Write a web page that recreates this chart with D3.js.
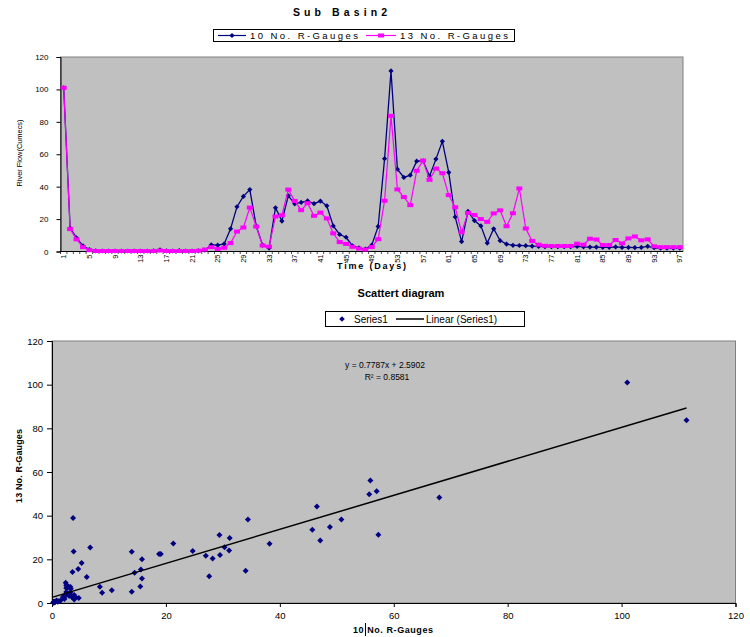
<!DOCTYPE html>
<html><head><meta charset="utf-8">
<script src="https://cdn.jsdelivr.net/npm/d3@7/dist/d3.min.js"></script>
<style>
body{margin:0;background:#fff}
svg{display:block}
text{font-family:"Liberation Sans",Arial,sans-serif;fill:#000}
</style>
</head><body>
<svg id="c" width="750" height="637"></svg>
<script>
// ---------- DATA ----------
const days = [1,2,3,4,5,6,7,8,9,10,11,12,13,14,15,16,17,18,19,20,21,22,23,24,25,26,27,28,29,30,
  31,32,33,34,35,36,37,38,39,40,41,42,43,44,45,46,47,48,49,50,51,52,53,54,55,56,57,58,59,60,
  61,62,63,64,65,66,67,68,69,70,71,72,73,74,75,76,77,78,79,80,81,82,83,84,85,86,87,88,89,90,
  91,92,93,94,95,96,97];
const gauges10 = [101,14.5,8.4,3.5,1.2,0.4,0.3,0.3,0.3,0.3,0.3,0.3,0.3,0.3,0.4,1.0,0.4,0.3,0.5,0.3,
  0.3,0.4,0.8,4.1,3.9,4.7,14.0,27.6,34.0,38.2,15.6,3.9,2.1,27.0,18.8,34.4,29.4,30.3,31.2,29.5,
  31.1,28.2,15.8,10.5,8.8,3.5,2.2,1.5,3.9,15.5,57.3,111.4,50.8,45.7,47.1,55.7,55.9,46.5,57.0,68.0,
  48.8,21.3,6.1,24.7,19.1,15.8,5.2,14.0,6.7,4.6,3.8,3.7,3.6,3.3,3.1,3.0,3.0,3.0,3.0,3.0,
  3.2,2.9,2.7,2.7,2.6,2.6,2.8,2.5,2.5,2.4,2.5,3.2,2.3,2.0,2.0,2.0,2.0];
const gauges13 = [101,13.8,7.5,2.7,0.8,0.3,0.3,0.3,0.3,0.3,0.3,0.3,0.3,0.3,0.3,0.6,0.3,0.3,0.3,0.3,
  0.3,0.5,1.2,2.7,1.6,2.3,5.2,12.3,14.8,27.1,15.4,3.7,3.0,21.6,22.4,38.2,31.2,25.5,29.8,22.0,
  24.0,20.4,11.2,5.8,4.7,2.9,1.8,1.2,2.8,7.6,31.3,83.7,38.3,33.6,28.6,49.8,56.1,44.2,51.2,48.3,
  34.8,27.3,11.9,23.8,22.5,20.0,18.3,23.5,25.4,15.6,23.6,38.9,14.2,6.5,4.2,3.5,3.4,3.4,3.4,3.4,
  4.8,4.2,7.9,7.4,4.0,4.0,7.1,5.0,8.1,9.3,6.9,7.5,3.2,2.7,2.7,2.7,2.7];
const dayTickLabels = [1,5,9,13,17,21,25,29,33,37,41,45,49,53,57,61,65,69,73,77,81,85,89,93,97];
const flowTicks = [0,20,40,60,80,100,120];
const scatterTicks = [0,20,40,60,80,100,120];
const trendSlope = 0.7787;
const trendIntercept = 2.5902;
const trendR2 = 0.8581;
const seriesNames = ["10 No. R-Gauges","13 No. R-Gauges"];

const NAVY = "#000080", MAG = "#FF00FF", PLOT = "#C0C0C0", BORDER = "#808080";
const svg = d3.select("#c");
const diamond = s => `M0,${-s}L${s},0L0,${s}L${-s},0Z`;

// ---------- CHART 1 : time series ----------
const p1 = {l:60.5, r:683, t:57, b:251.5};
const x1 = d3.scalePoint().domain(days).range([p1.l, p1.r]).padding(0.5);
const xb1 = d3.scaleBand().domain(days).range([p1.l, p1.r]);
const y1 = d3.scaleLinear().domain([0,120]).range([p1.b, p1.t]);

svg.append("text").attr("x",293).attr("y",16).attr("font-size",10.5).attr("font-weight","bold")
  .attr("textLength",94).attr("lengthAdjust","spacing").text("Sub Basin2");

// legend 1
const lg1 = svg.append("g");
lg1.append("rect").attr("x",213.5).attr("y",29.5).attr("width",301).attr("height",12)
  .attr("fill","#fff").attr("stroke","#000").attr("stroke-width",1);
lg1.append("line").attr("x1",218).attr("x2",246).attr("y1",35.5).attr("y2",35.5).attr("stroke",NAVY).attr("stroke-width",1.2);
lg1.append("path").attr("d",diamond(2.6)).attr("transform","translate(232,35.5)").attr("fill",NAVY);
lg1.append("text").attr("x",250).attr("y",39).attr("font-size",9.5).attr("textLength",108).attr("lengthAdjust","spacing").text(seriesNames[0]);
lg1.append("line").attr("x1",366).attr("x2",396).attr("y1",35.5).attr("y2",35.5).attr("stroke",MAG).attr("stroke-width",1.2);
lg1.append("rect").attr("x",378).attr("y",33.5).attr("width",6).attr("height",4).attr("fill",MAG);
lg1.append("text").attr("x",400).attr("y",39).attr("font-size",9.5).attr("textLength",108).attr("lengthAdjust","spacing").text(seriesNames[1]);

// plot area
svg.append("rect").attr("x",p1.l).attr("y",p1.t).attr("width",p1.r-p1.l).attr("height",p1.b-p1.t)
  .attr("fill",PLOT).attr("stroke",BORDER).attr("stroke-width",1);

// y axis
const ya1 = svg.append("g").attr("transform",`translate(${p1.l},0)`)
  .call(d3.axisLeft(y1).tickValues(flowTicks).tickSize(4).tickPadding(8).tickFormat(d3.format("d")));
ya1.select(".domain").attr("stroke","#000");
ya1.selectAll(".tick line").attr("stroke","#000");
ya1.selectAll("text").attr("font-size",8).attr("font-family",null);

// x axis
svg.append("line").attr("x1",p1.l).attr("x2",p1.r).attr("y1",p1.b).attr("y2",p1.b).attr("stroke","#000");
svg.append("g").selectAll("line").data(days).join("line")
  .attr("x1",d=>xb1(d)).attr("x2",d=>xb1(d)).attr("y1",p1.b).attr("y2",p1.b+2.5)
  .attr("stroke","#000").attr("stroke-width",0.7);
svg.append("g").selectAll("text").data(dayTickLabels).join("text")
  .attr("transform",d=>`translate(${x1(d)+2.6},${p1.b+3}) rotate(-90)`)
  .attr("text-anchor","end").attr("font-size",7.5).text(d=>d);

svg.append("text").attr("transform","translate(22,153) rotate(-90)").attr("text-anchor","middle")
  .attr("font-size",7.5).attr("textLength",67).attr("lengthAdjust","spacingAndGlyphs").text("River Flow(Cumecs)");
svg.append("text").attr("x",337).attr("y",268.5).attr("font-size",9).attr("font-weight","bold")
  .attr("textLength",69).attr("lengthAdjust","spacing").text("Time (Days)");

// series
const line1 = d3.line().x((d,i)=>x1(days[i])).y(d=>y1(d));
svg.append("path").datum(gauges10).attr("d",line1).attr("fill","none").attr("stroke",NAVY).attr("stroke-width",1.3);
svg.append("g").selectAll("path").data(gauges10).join("path")
  .attr("d",diamond(2.6)).attr("transform",(d,i)=>`translate(${x1(days[i])},${y1(d)})`).attr("fill",NAVY);
svg.append("path").datum(gauges13).attr("d",line1).attr("fill","none").attr("stroke",MAG).attr("stroke-width",1.2);
svg.append("g").selectAll("rect").data(gauges13).join("rect")
  .attr("x",(d,i)=>x1(days[i])-3).attr("y",d=>y1(d)-2).attr("width",6).attr("height",4).attr("fill",MAG);

// ---------- CHART 2 : scatter ----------
const p2 = {l:52, r:735.5, t:341, b:603};
const x2 = d3.scaleLinear().domain([0,120]).range([p2.l, p2.r]);
const y2 = d3.scaleLinear().domain([0,120]).range([p2.b, p2.t]);

svg.append("text").attr("x",401).attr("y",297).attr("text-anchor","middle").attr("font-size",11)
  .attr("font-weight","bold").text("Scattert diagram");

const lg2 = svg.append("g");
lg2.append("rect").attr("x",325.5).attr("y",311.5).attr("width",199).attr("height",15)
  .attr("fill","#fff").attr("stroke","#000");
lg2.append("path").attr("d",diamond(2.8)).attr("transform","translate(342,319)").attr("fill",NAVY);
lg2.append("text").attr("x",354).attr("y",323).attr("font-size",10).text("Series1");
lg2.append("line").attr("x1",396).attr("x2",424).attr("y1",319).attr("y2",319).attr("stroke","#000").attr("stroke-width",1.5);
lg2.append("text").attr("x",426).attr("y",323).attr("font-size",10).text("Linear (Series1)");

svg.append("rect").attr("x",p2.l).attr("y",p2.t).attr("width",p2.r-p2.l).attr("height",p2.b-p2.t)
  .attr("fill",PLOT).attr("stroke",BORDER).attr("stroke-width",1);

const ya2 = svg.append("g").attr("transform",`translate(${p2.l},0)`)
  .call(d3.axisLeft(y2).tickValues(scatterTicks).tickSize(5).tickPadding(4));
const xa2 = svg.append("g").attr("transform",`translate(0,${p2.b})`)
  .call(d3.axisBottom(x2).tickValues(scatterTicks).tickSize(4).tickPadding(5));
[ya2,xa2].forEach(a=>{
  a.select(".domain").attr("stroke","#000");
  a.selectAll(".tick line").attr("stroke","#000");
  a.selectAll("text").attr("font-size",9.5).attr("font-family",null);
});

svg.append("text").attr("transform","translate(22,466) rotate(-90)").attr("text-anchor","middle")
  .attr("font-size",9).attr("font-weight","bold").attr("textLength",74).attr("lengthAdjust","spacing").text("13 No. R-Gauges");
svg.append("text").attr("x",353).attr("y",633).attr("font-size",9).attr("font-weight","bold")
  .attr("textLength",80).attr("lengthAdjust","spacing").text("10 No. R-Gauges");
svg.append("line").attr("x1",365.5).attr("x2",365.5).attr("y1",623).attr("y2",636).attr("stroke","#000").attr("stroke-width",1);

// points
const pts = gauges10.map((v,i)=>[v, gauges13[i]]);
svg.append("g").selectAll("path").data(pts).join("path")
  .attr("d",diamond(3)).attr("transform",d=>`translate(${x2(d[0])},${y2(d[1])})`).attr("fill",NAVY);

// trendline
const ext = d3.extent(gauges10);
svg.append("line").attr("x1",x2(0)).attr("y1",y2(trendIntercept))
  .attr("x2",x2(ext[1])).attr("y2",y2(trendSlope*ext[1]+trendIntercept))
  .attr("stroke","#000").attr("stroke-width",1.5);

svg.append("text").attr("x",385).attr("y",368).attr("text-anchor","middle").attr("font-size",8.5)
  .text(`y = ${trendSlope}x + ${trendIntercept}`);
svg.append("text").attr("x",387).attr("y",380).attr("text-anchor","middle").attr("font-size",8.5)
  .text(`R² = ${trendR2}`);
</script>
</body></html>
